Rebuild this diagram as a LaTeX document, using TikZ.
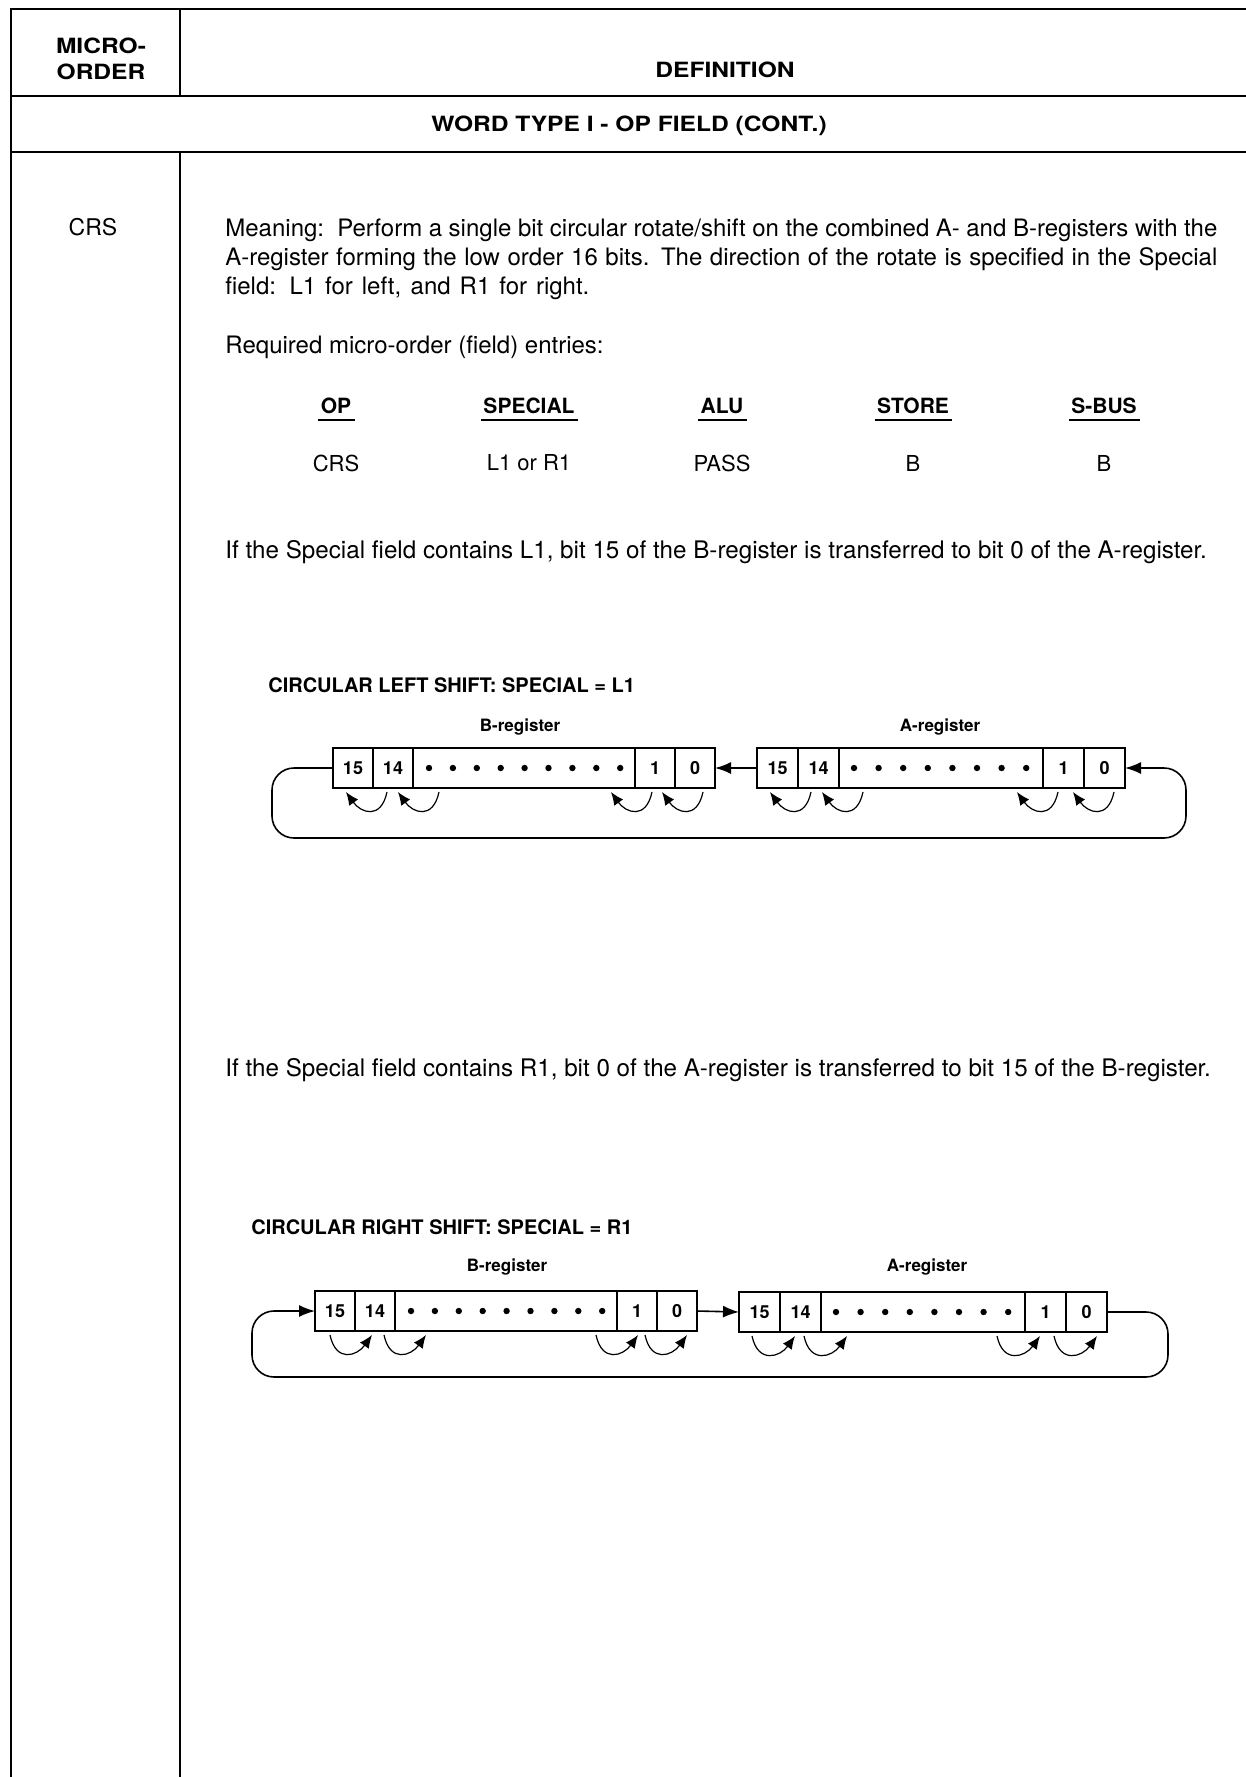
\documentclass[tikz,border=0pt]{standalone}
\usepackage{fontspec}
\setmainfont{TeX Gyre Heros}
\newfontfamily\hdrfont[FakeStretch=1.17]{TeX Gyre Heros}
\usetikzlibrary{arrows.meta,positioning,calc}

\begin{document}
\begin{tikzpicture}[x=0.5pt, y=-0.5pt, >={Latex[length=8pt,width=6pt]},
    framerule/.style={line width=1pt},
    txt/.style={anchor=west, inner sep=0pt, font=\fontsize{12}{14}\selectfont},
    hdr/.style={inner sep=0pt, font=\hdrfont\fontsize{10.5}{12}\selectfont\bfseries},
    colhead/.style={inner sep=0pt, font=\fontsize{10.5}{12}\selectfont\bfseries},
    colval/.style={inner sep=0pt, font=\fontsize{11}{13}\selectfont},
    ulline/.style={line width=1.1pt},
    diagtitle/.style={anchor=west, inner sep=0pt, font=\fontsize{10}{12}\selectfont\bfseries},
    reglabel/.style={inner sep=0pt, font=\fontsize{8.5}{10}\selectfont\bfseries},
    regcell/.style={draw, line width=0.9pt, minimum width=20pt, minimum height=20pt,
                    inner sep=0pt, outer sep=0pt, font=\fontsize{9}{10}\selectfont\bfseries},
    aregcell/.style={regcell, minimum width=20.5pt},
    bitarc/.style={-{Latex[length=6.5pt,width=5.5pt]}, line width=0.6pt},
    rotline/.style={->, line width=0.8pt, rounded corners=11pt}]

  \useasboundingbox (0,0) rectangle (1246,1777);

  % table frame
  \draw[framerule] (11,1777) -- (11,9) -- (1246,9);
  \draw[framerule] (11,96) -- (1246,96);
  \draw[framerule] (11,152) -- (1246,152);
  \draw[framerule] (180,9) -- (180,96);
  \draw[framerule] (180,152) -- (180,1777);

  \node[hdr] (micro) at (101,46) {MICRO-};
  \node[hdr] (order) at (101,72) {ORDER};
  \node[hdr] (defn) at (725,70) {DEFINITION};
  \node[hdr] (wtype) at (629,126) {WORD TYPE I - OP FIELD (CONT.)};
  \node[txt, anchor=center, font=\fontsize{11.5}{13}\selectfont] (crs) at (93,227) {CRS};

  % definition text
  \node[txt] (mean1) at (225,230) {\makebox[496pt][s]{Meaning:\ \ Perform a single bit circular rotate/shift on the combined A- and B-registers with the}};
  \node[txt] (mean2) at (225,259) {\makebox[496pt][s]{A-register forming the low order 16 bits. The direction of the rotate is specified in the Special}};
  \node[txt] (mean3) at (225,288) {\makebox[182pt][s]{field: L1 for left, and R1 for right.}};
  \node[txt] (req) at (225,347) {Required micro-order (field) entries:};

  \node[colhead] (hop) at (336,406) {OP};
  \node[colhead] (hspec) at (529,406) {SPECIAL};
  \node[colhead] (halu) at (722,406) {ALU};
  \node[colhead] (hstore) at (913,406) {STORE};
  \node[colhead] (hsbus) at (1104,406) {S-BUS};
  \foreach \h in {hop,hspec,halu,hstore,hsbus}
    \draw[ulline] ([xshift=-1pt,yshift=-3pt]\h.south west) -- ([xshift=1.5pt,yshift=-3pt]\h.south east);

  \node[colval] (vop) at (336,463) {CRS};
  \node[colval] (vspec) at (529,463) {L1 or R1};
  \node[colval] (valu) at (722,463) {PASS};
  \node[colval] (vstore) at (913,463) {B};
  \node[colval] (vsbus) at (1104,463) {B};

  \node[txt, font=\fontsize{12.1}{14}\selectfont] (ifl) at (225,552) {If the Special field contains L1, bit 15 of the B-register is transferred to bit 0 of the A-register.};

  % circular left shift
  \node[diagtitle] (ltitle) at (268,685) {CIRCULAR LEFT SHIFT: SPECIAL = L1};
  \node[reglabel] (lblb) at (520,727) {B-register};
  \node[reglabel] (lbla) at (940,727) {A-register};

  \node[regcell, anchor=west] (bl15) at (333,768) {15};
  \node[regcell, right=0pt of bl15] (bl14) {14};
  \node[regcell, right=0pt of bl14, minimum width=111pt] (bld) {};
  \node[regcell, right=0pt of bld] (bl1) {1};
  \node[regcell, right=0pt of bl1] (bl0) {0};

  \node[aregcell, anchor=west] (al15) at (757,768) {15};
  \node[aregcell, right=0pt of al15] (al14) {14};
  \node[aregcell, right=0pt of al14, minimum width=102pt] (ald) {};
  \node[aregcell, right=0pt of ald] (al1) {1};
  \node[aregcell, right=0pt of al1] (al0) {0};

  \foreach \i in {0,...,8}
    \fill ($(bld.west)+(16+\i*23.9,0)$) circle (1.6pt);
  \foreach \i in {0,...,7}
    \fill ($(ald.west)+(15+\i*24.6,0)$) circle (1.6pt);

  \foreach \c/\o in {15/13,14/25,1/-24,0/-13}
    \draw[bitarc] ($(bl\c.south west)+(\o+41,4)$) .. controls +(-6,28) and +(15,21) .. ($(bl\c.south west)+(\o,4)$);
  \foreach \c/\o in {15/13,14/24,1/-26,0/-11}
    \draw[bitarc] ($(al\c.south west)+(\o+41,4)$) .. controls +(-6,28) and +(15,21) .. ($(al\c.south west)+(\o,4)$);

  \coordinate (lsw) at (272,838);
  \coordinate (lse) at (1186,838);
  \draw[rotline] (al15.west) -- (bl0.east);
  \draw[rotline] (bl15.west) -| (lsw) -- (lse) |- (al0.east);

  \node[txt, font=\fontsize{12.1}{14}\selectfont] (ifr) at (225,1070) {If the Special field contains R1, bit 0 of the A-register is transferred to bit 15 of the B-register.};

  % circular right shift
  \node[diagtitle] (rtitle) at (251,1227) {CIRCULAR RIGHT SHIFT: SPECIAL = R1};
  \node[reglabel] (rlbb) at (507,1267) {B-register};
  \node[reglabel] (rlba) at (927,1267) {A-register};

  \node[regcell, anchor=west] (br15) at (315,1311) {15};
  \node[regcell, right=0pt of br15] (br14) {14};
  \node[regcell, right=0pt of br14, minimum width=111pt] (brd) {};
  \node[regcell, right=0pt of brd] (br1) {1};
  \node[regcell, right=0pt of br1] (br0) {0};

  \node[aregcell, anchor=west] (ar15) at (739,1312) {15};
  \node[aregcell, right=0pt of ar15] (ar14) {14};
  \node[aregcell, right=0pt of ar14, minimum width=102pt] (ard) {};
  \node[aregcell, right=0pt of ard] (ar1) {1};
  \node[aregcell, right=0pt of ar1] (ar0) {0};

  \foreach \i in {0,...,8}
    \fill ($(brd.west)+(16+\i*23.9,0)$) circle (1.6pt);
  \foreach \i in {0,...,7}
    \fill ($(ard.west)+(15+\i*24.6,0)$) circle (1.6pt);

  \foreach \c/\o in {15/15,14/29,1/-21,0/-12}
    \draw[bitarc] ($(br\c.south west)+(\o,4)$) .. controls +(6,28) and +(-15,21) .. ($(br\c.south west)+(\o+42,4)$);
  \foreach \c/\o in {15/13,14/24,1/-28,0/-12}
    \draw[bitarc] ($(ar\c.south west)+(\o,4)$) .. controls +(6,28) and +(-15,21) .. ($(ar\c.south west)+(\o+43,4)$);

  \coordinate (rsw) at (252,1377);
  \coordinate (rse) at (1168,1377);
  \draw[rotline] (br0.east) -- (ar15.west);
  \draw[rotline] (ar0.east) -| (rse) -- (rsw) |- (br15.west);

\end{tikzpicture}
\end{document}
